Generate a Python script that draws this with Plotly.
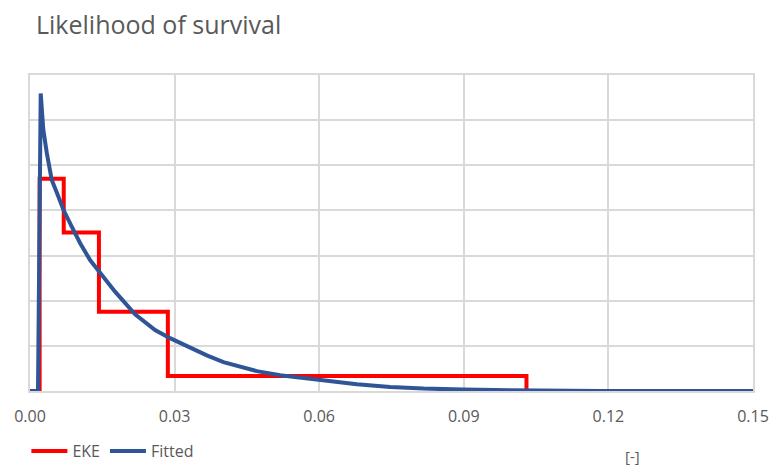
import plotly.graph_objects as go

# EKE histogram (bin edges and heights)
eke_edges = [0.002, 0.007, 0.0143, 0.0286, 0.103]
eke_heights = [4.70, 3.51, 1.755, 0.333]

# Fitted density
fit_x = [0.0, 0.00166, 0.00222, 0.00276, 0.00347, 0.00450, 0.00588, 0.00691, 0.00866,
         0.01038, 0.01246, 0.01349, 0.01488, 0.01765, 0.02180, 0.02595, 0.02906, 0.03218,
         0.03668, 0.04013, 0.04360, 0.04706, 0.05190, 0.05605, 0.06020, 0.06782, 0.07473,
         0.08165, 0.08995, 0.09550, 0.1059, 0.1183, 0.15]
fit_y = [0.0, 0.0, 6.59, 5.79, 5.28, 4.68, 4.31, 4.02, 3.64,
         3.28, 2.90, 2.76, 2.57, 2.20, 1.70, 1.35, 1.17, 1.01,
         0.79, 0.64, 0.53, 0.44, 0.35, 0.30, 0.24, 0.15, 0.09,
         0.053, 0.031, 0.016, 0.009, 0.002, 0.0]

x_ticks = [0.0, 0.03, 0.06, 0.09, 0.12, 0.15]

eke_x = [eke_edges[0]] + eke_edges
eke_y = [0] + eke_heights + [0]

GRID = "#d9d9d9"
TXT = "#595959"
FONT = "Open Sans, Segoe UI, sans-serif"

fig = go.Figure()
fig.add_trace(go.Scatter(x=eke_x, y=eke_y, mode="lines", name="EKE",
                         line=dict(color="#ff0000", width=4, shape="hv")))
fig.add_trace(go.Scatter(x=fit_x, y=fit_y, mode="lines", name="Fitted",
                         line=dict(color="#2f5597", width=4)))

fig.update_layout(
    width=772, height=466,
    margin=dict(l=30, r=19, t=75, b=75, autoexpand=False),
    paper_bgcolor="white", plot_bgcolor="white",
    font=dict(family=FONT, color=TXT),
    title=dict(text="Likelihood of survival", x=0, xref="paper", xanchor="left",
               y=0.945, yanchor="middle", font=dict(size=25, color=TXT, family=FONT),
               pad=dict(l=6)),
    showlegend=True,
    legend=dict(orientation="h", x=-0.005, xanchor="left", y=-0.19, yanchor="middle",
                font=dict(size=16, color=TXT), bgcolor="rgba(0,0,0,0)", itemwidth=36,
                tracegroupgap=0),
    xaxis=dict(range=[0, 0.15], tickvals=x_ticks, tickformat=".2f",
               showgrid=True, gridcolor=GRID, gridwidth=1.5,
               showline=True, linecolor=GRID, linewidth=1.5, mirror=True,
               zeroline=False, ticks="", tickfont=dict(size=16, color=TXT), ticklabelstandoff=10),
    yaxis=dict(range=[0, 7], dtick=1, showticklabels=False,
               showgrid=True, gridcolor=GRID, gridwidth=1.5,
               showline=True, linecolor=GRID, linewidth=1.5, mirror=True,
               zeroline=False, ticks=""),
    annotations=[dict(text="[-]", xref="paper", yref="paper", x=0.834, y=-0.205,
                      xanchor="center", yanchor="middle", showarrow=False,
                      font=dict(size=15, color=TXT))],
)

fig.write_html("out.html")
